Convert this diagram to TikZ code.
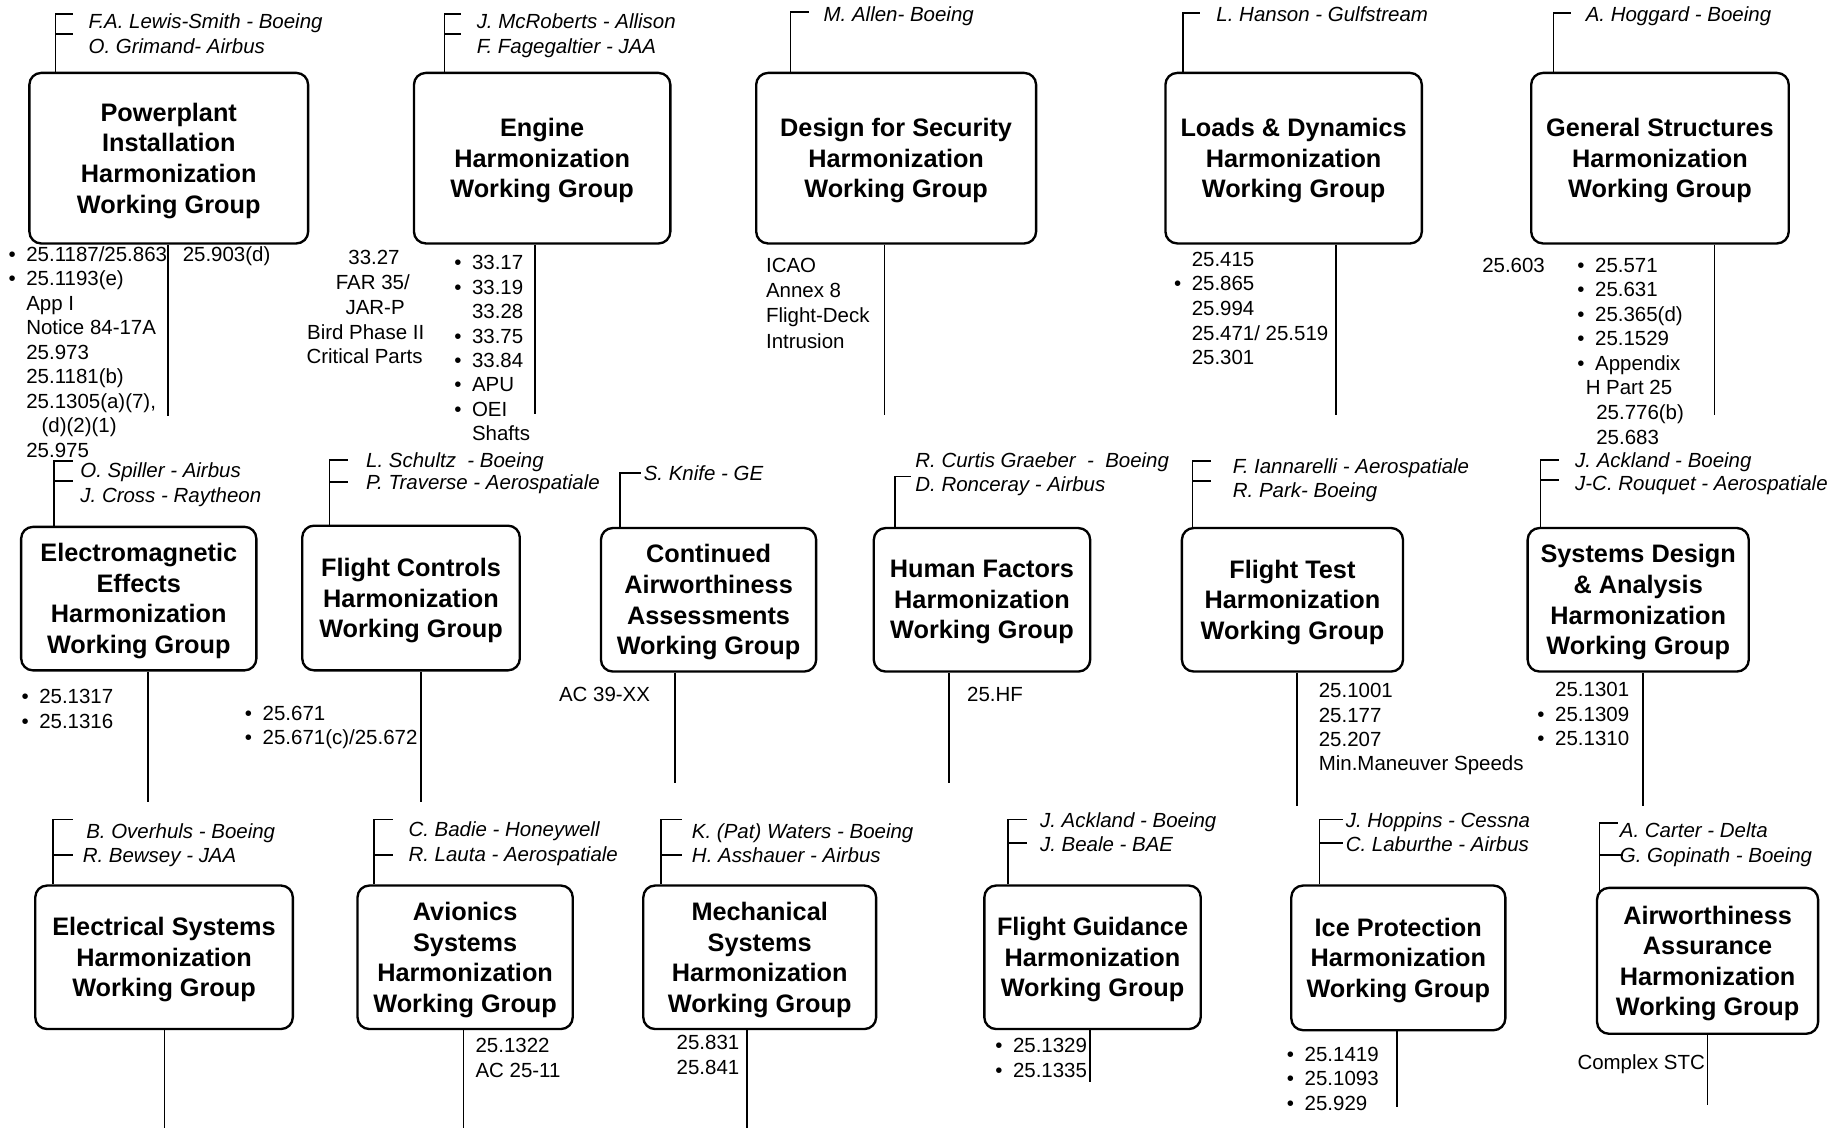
\documentclass[tikz,border=0pt]{standalone}
\usepackage{fontspec}
\setmainfont{Liberation Sans}
\usetikzlibrary{fit}
\newcommand\bul{\llap{\textbullet\hspace{4.5pt}}}
\newcommand\reglist[5]{\foreach \itm [count=\i from 0] in {#5} {\node[rg] (#1\i) at (#2, {#3+#4*\i}) {\itm};}}
\tikzset{
 wg/.style={draw, line width=1pt, rounded corners=5pt, fill=white, inner sep=0pt},
 wgt/.style={inner sep=0pt, align=center, yshift=-1.1pt, font=\fontsize{10.75}{13}\selectfont\bfseries},
 nm/.style={anchor=west, inner sep=0pt, font=\fontsize{8.7}{10.5}\selectfont\itshape, text height=6.3pt, text depth=0pt},
 rg/.style={anchor=west, inner sep=0pt, font=\fontsize{8.7}{10.5}\selectfont, text height=6.3pt, text depth=0pt},
 rgc/.style={rg, anchor=center},
 ln/.style={line width=0.65pt},
}
\begin{document}
\begin{tikzpicture}[x=0.5pt,y=-0.5pt]
\useasboundingbox (0,0) rectangle (1568,959);

% ================= Row 1 =================
% Powerplant
\node[wg, fit={(25,62) (262,207)}] (pp) {};
\node[wgt] (ppt) at (pp.center) {Powerplant\\Installation\\Harmonization\\Working Group};
\draw[ln] (pp.north -| 47,0) -- (47,12) -- (62,12);
\draw[ln] (47,29) -- (62,29);
\node[nm] (ppn1) at (75,18) {F.A. Lewis-Smith - Boeing};
\node[nm] (ppn2) at (75,39) {O. Grimand- Airbus};
\draw[ln] (pp.south -| 143,0) -- (143,354);
\reglist{ppL}{22}{216}{20.8}{\bul 25.1187/25.863, \bul 25.1193(e), App I, Notice 84-17A, 25.973, 25.1181(b), {25.1305(a)(7),}, \hspace{6.5pt}(d)(2)(1), 25.975}
\node[rg] (ppR) at (155,216) {25.903(d)};

% Engine
\node[wg, fit={(352,62) (570,207)}] (en) {};
\node[wgt] (ent) at (en.center) {Engine\\Harmonization\\Working Group};
\draw[ln] (en.north -| 378,0) -- (378,12) -- (392,12);
\draw[ln] (378,29) -- (392,29);
\node[nm] (enn1) at (405,18) {J. McRoberts - Allison};
\node[nm] (enn2) at (405,39) {F. Fagegaltier - JAA};
\draw[ln] (en.south -| 455,0) -- (455,352);
\node[rgc] (enL0) at (318,219) {33.27};
\node[rgc] (enL1) at (317,240) {FAR 35/};
\node[rgc] (enL2) at (319,261) {JAR-P};
\node[rgc] (enL3) at (311,282) {Bird Phase II};
\node[rgc] (enL4) at (310,303) {Critical Parts};
\reglist{enR}{401}{223}{20.8}{\bul 33.17, \bul 33.19, 33.28, \bul 33.75, \bul 33.84, \bul APU, \bul OEI, Shafts}

% Design for Security
\node[wg, fit={(643,62) (881,207)}] (ds) {};
\node[wgt] (dst) at (ds.center) {Design for Security\\Harmonization\\Working Group};
\draw[ln] (ds.north -| 672,0) -- (672,10) -- (688,10);
\node[nm] (dsn1) at (700,12) {M. Allen- Boeing};
\draw[ln] (ds.south -| 752,0) -- (752,353);
\reglist{dsL}{651}{225}{21.6}{ICAO, Annex 8, Flight-Deck, Intrusion}

% Loads & Dynamics
\node[wg, fit={(991,62) (1209,207)}] (ld) {};
\node[wgt] (ldt) at (ld.center) {Loads \& Dynamics\\Harmonization\\Working Group};
\draw[ln] (ld.north -| 1006,0) -- (1006,11) -- (1020,11);
\node[nm] (ldn1) at (1034,12) {L. Hanson - Gulfstream};
\draw[ln] (ld.south -| 1136,0) -- (1136,353);
\reglist{ldL}{1013}{220}{21}{25.415, \bul 25.865, 25.994, 25.471/ 25.519, 25.301}

% General Structures
\node[wg, fit={(1302,62) (1521,207)}] (gs) {};
\node[wgt] (gst) at (gs.center) {General Structures\\Harmonization\\Working Group};
\draw[ln] (gs.north -| 1321,0) -- (1321,11) -- (1336,11);
\node[nm] (gsn1) at (1348,12) {A. Hoggard - Boeing};
\draw[ln] (gs.south -| 1458,0) -- (1458,353);
\node[rg] (gsL) at (1260,225) {25.603};
\reglist{gsR}{1356}{225}{20.9}{\bul 25.571, \bul 25.631, \bul 25.365(d), \bul 25.1529, \bul Appendix, \hspace{-4pt}H Part 25, \hspace{0.5pt}25.776(b), \hspace{0.5pt}25.683}

% ================= Row 2 =================
% Electromagnetic Effects
\node[wg, fit={(18,448) (218,570)}] (em) {};
\node[wgt] (emt) at (em.center) {Electromagnetic\\Effects\\Harmonization\\Working Group};
\draw[ln] (em.north -| 46,0) -- (46,392) -- (62,392);
\draw[ln] (46,409) -- (62,409);
\node[nm] (emn1) at (68,400) {O. Spiller - Airbus};
\node[nm] (emn2) at (68,421) {J. Cross - Raytheon};
\draw[ln] (em.south -| 126,0) -- (126,682);
\reglist{emL}{33}{592}{21}{\bul 25.1317, \bul 25.1316}

% Flight Controls
\node[wg, fit={(257,447) (442,570)}] (fc) {};
\node[wgt] (fct) at (fc.center) {Flight Controls\\Harmonization\\Working Group};
\draw[ln] (fc.north -| 280,0) -- (280,391) -- (296,391);
\draw[ln] (280,410) -- (296,410);
\node[nm] (fcn1) at (311,391) {L. Schultz\ \ - Boeing};
\node[nm] (fcn2) at (311,410) {P. Traverse - Aerospatiale};
\draw[ln] (fc.south -| 358,0) -- (358,682);
\reglist{fcL}{223}{606}{21}{\bul 25.671, \bul 25.671(c)/25.672}

% Continued Airworthiness
\node[wg, fit={(511,449) (694,571)}] (ca) {};
\node[wgt] (cat) at (ca.center) {Continued\\Airworthiness\\Assessments\\Working Group};
\draw[ln] (ca.north -| 527,0) -- (527,402) -- (545,402);
\node[nm] (can1) at (547,402) {S. Knife - GE};
\draw[ln] (ca.south -| 574,0) -- (574,666);
\node[rg] (caL) at (475,590) {AC 39-XX};

% Human Factors
\node[wg, fit={(743,449) (927,571)}] (hf) {};
\node[wgt] (hft) at (hf.center) {Human Factors\\Harmonization\\Working Group};
\draw[ln] (hf.north -| 761,0) -- (761,405) -- (775,405);
\node[nm] (hfn1) at (778,391) {R. Curtis Graeber\ \ -\ \ Boeing};
\node[nm] (hfn2) at (778,412) {D. Ronceray - Airbus};
\draw[ln] (hf.south -| 807,0) -- (807,666);
\node[rg] (hfL) at (822,590) {25.HF};

% Flight Test
\node[wg, fit={(1005,449) (1193,571)}] (ft) {};
\node[wgt] (ftt) at (ft.center) {Flight Test\\Harmonization\\Working Group};
\draw[ln] (ft.north -| 1014,0) -- (1014,392) -- (1030,392);
\draw[ln] (1014,409) -- (1030,409);
\node[nm] (ftn1) at (1048,396) {F. Iannarelli - Aerospatiale};
\node[nm] (ftn2) at (1048,417) {R. Park- Boeing};
\draw[ln] (ft.south -| 1103,0) -- (1103,685);
\reglist{ftR}{1121}{587}{20.7}{25.1001, 25.177, 25.207, Min.Maneuver Speeds}

% Systems Design & Analysis
\node[wg, fit={(1299,449) (1487,571)}] (sd) {};
\node[wgt] (sdt) at (sd.center) {Systems Design\\\& Analysis\\Harmonization\\Working Group};
\draw[ln] (sd.north -| 1310,0) -- (1310,391) -- (1326,391);
\draw[ln] (1310,408) -- (1326,408);
\node[nm] (sdn1) at (1339,391) {J. Ackland - Boeing};
\node[nm] (sdn2) at (1339,411) {J-C. Rouquet - Aerospatiale};
\draw[ln] (sd.south -| 1397,0) -- (1397,685);
\reglist{sdL}{1322}{586}{21}{25.1301, \bul 25.1309, \bul 25.1310}

% ================= Row 3 =================
% Electrical Systems
\node[wg, fit={(30,753) (249,875)}] (es) {};
\node[wgt] (est) at (es.center) {Electrical Systems\\Harmonization\\Working Group};
\draw[ln] (es.north -| 45,0) -- (45,697) -- (62,697);
\draw[ln] (45,727) -- (62,727);
\node[nm] (esn1) at (73,707) {B. Overhuls - Boeing};
\node[nm] (esn2) at (70,727) {R. Bewsey - JAA};
\draw[ln] (es.south -| 140,0) -- (140,959);

% Avionics Systems
\node[wg, fit={(304,753) (487,875)}] (av) {};
\node[wgt] (avt) at (av.center) {Avionics\\Systems\\Harmonization\\Working Group};
\draw[ln] (av.north -| 318,0) -- (318,697) -- (334,697);
\draw[ln] (318,727) -- (334,727);
\node[nm] (avn1) at (347,705) {C. Badie - Honeywell};
\node[nm] (avn2) at (347,726) {R. Lauta - Aerospatiale};
\draw[ln] (av.south -| 394,0) -- (394,959);
\reglist{avR}{404}{889}{21}{25.1322, AC 25-11}

% Mechanical Systems
\node[wg, fit={(547,753) (745,875)}] (ms) {};
\node[wgt] (mst) at (ms.center) {Mechanical\\Systems\\Harmonization\\Working Group};
\draw[ln] (ms.north -| 562,0) -- (562,697) -- (580,697);
\draw[ln] (562,727) -- (580,727);
\node[nm] (msn1) at (588,707) {K. (Pat) Waters - Boeing};
\node[nm] (msn2) at (588,727) {H. Asshauer - Airbus};
\draw[ln] (ms.south -| 635,0) -- (635,959);
\reglist{msL}{575}{886}{21}{25.831, 25.841}

% Flight Guidance
\node[wg, fit={(837,753) (1021,875)}] (fg) {};
\node[wgt] (fgt) at (fg.center) {Flight Guidance\\Harmonization\\Working Group};
\draw[ln] (fg.north -| 857,0) -- (857,697) -- (873,697);
\draw[ln] (857,717) -- (873,717);
\node[nm] (fgn1) at (884,697) {J. Ackland - Boeing};
\node[nm] (fgn2) at (884,718) {J. Beale - BAE};
\draw[ln] (fg.south -| 927,0) -- (927,920);
\reglist{fgL}{861}{889}{21}{\bul 25.1329, \bul 25.1335}

% Ice Protection
\node[wg, fit={(1098,753) (1280,876)}] (ip) {};
\node[wgt] (ipt) at (ip.center) {Ice Protection\\Harmonization\\Working Group};
\draw[ln] (ip.north -| 1122,0) -- (1122,697) -- (1142,697);
\draw[ln] (1122,717) -- (1142,717);
\node[nm] (ipn1) at (1144,697) {J. Hoppins - Cessna};
\node[nm] (ipn2) at (1144,718) {C. Laburthe - Airbus};
\draw[ln] (ip.south -| 1188,0) -- (1188,941);
\reglist{ipL}{1109}{896}{21}{\bul 25.1419, \bul 25.1093, \bul 25.929}

% Airworthiness Assurance
\node[wg, fit={(1358,755) (1546,879)}] (aa) {};
\node[wgt] (aat) at (aa.center) {Airworthiness\\Assurance\\Harmonization\\Working Group};
\draw[ln] ([yshift=-2pt]aa.north -| 1360,0) -- (1360,700) -- (1376,700);
\draw[ln] (1360,727) -- (1380,727);
\node[nm] (aan1) at (1377,706) {A. Carter - Delta};
\node[nm] (aan2) at (1377,727) {G. Gopinath - Boeing};
\draw[ln] (aa.south -| 1452,0) -- (1452,940);
\node[rg] (aaL) at (1341,903) {Complex STC};
\end{tikzpicture}
\end{document}
